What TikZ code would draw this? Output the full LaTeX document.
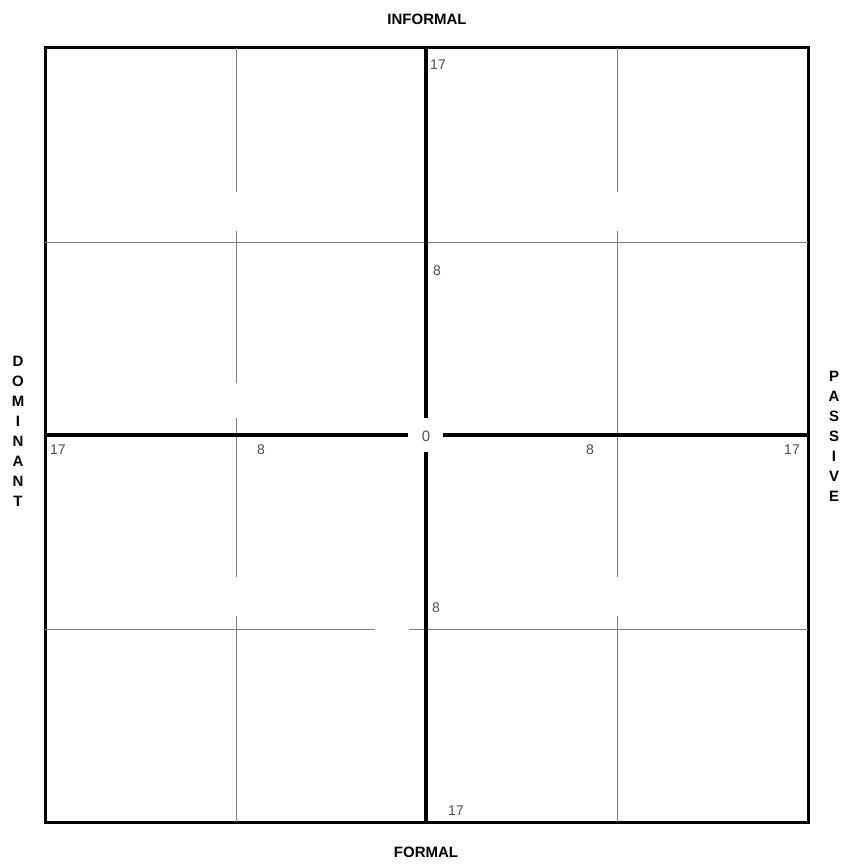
\documentclass[tikz,border=0pt]{standalone}
\usepackage{fontspec}
\setmainfont{Liberation Sans}
\usetikzlibrary{positioning}

\begin{document}
\begin{tikzpicture}
          [x=1pt,y=-1pt]
          \tikzstyle{frame}=[line width=3pt]
          \tikzstyle{axis}=[line width=4pt]
          \tikzstyle{grid}=[black!50,line width=1pt]
          \tikzstyle{num}=[font=\fontsize{14}{14}\selectfont,text=black!70,inner sep=1pt]
          \tikzstyle{pole}=[font=\bfseries\fontsize{15}{20}\selectfont,align=center,inner sep=0pt]

          \useasboundingbox (0,0) rectangle (848,867);

          % frame
          \coordinate (nw) at (45,48);
          \coordinate (se) at (808,822);
          \draw[frame] (nw) rectangle (se);

          % grey grid lines
          \coordinate (g1t) at (236,48);  \coordinate (g1a) at (236,192);
          \coordinate (g1b) at (236,231); \coordinate (g1c) at (236,383);
          \coordinate (g1d) at (236,418); \coordinate (g1e) at (236,577);
          \coordinate (g1f) at (236,616); \coordinate (g1z) at (236,822);
          \coordinate (g2t) at (617,48);  \coordinate (g2a) at (617,192);
          \coordinate (g2b) at (617,231); \coordinate (g2e) at (617,577);
          \coordinate (g2f) at (617,616); \coordinate (g2z) at (617,822);
          \coordinate (h1l) at (45,242);  \coordinate (h1r) at (808,242);
          \coordinate (h2l) at (45,629);  \coordinate (h2a) at (375,629);
          \coordinate (h2b) at (409,629); \coordinate (h2r) at (808,629);
          \draw[grid] (g1t) -- (g1a) (g1b) -- (g1c) (g1d) -- (g1e) (g1f) -- (g1z);
          \draw[grid] (g2t) -- (g2a) (g2b) -- (g2e) (g2f) -- (g2z);
          \draw[grid] (h1l) -- (h1r) (h2l) -- (h2a) (h2b) -- (h2r);

          % axes
          \node[num,font=\fontsize{15}{15}\selectfont] (zero) at (426,436) {0};
          \coordinate (top) at (426,48);   \coordinate (bot) at (426,822);
          \coordinate (lft) at (45,435);   \coordinate (rgt) at (808,435);
          \coordinate (ua) at (426,418);   \coordinate (da) at (426,452);
          \coordinate (la) at (408,435);   \coordinate (ra) at (443,435);
          \draw[axis] (top) -- (ua) (da) -- (bot);
          \draw[axis] (lft) -- (la) (ra) -- (rgt);

          % scale numbers
          \node[num] (n17t) at (438,65) {17};
          \node[num] (n8t) at (437,271) {8};
          \node[num] (n8b) at (436,608) {8};
          \node[num] (n17b) at (456,811) {17};
          \node[num] (n17l) at (58,450) {17};
          \node[num] (n8l) at (261,450) {8};
          \node[num] (n8r) at (590,450) {8};
          \node[num] (n17r) at (792,450) {17};

          % poles
          \node[pole] (informal) at (427,19) {INFORMAL};
          \node[pole] (formal) at (426,852) {FORMAL};
          \node[pole] (dominant) at (18,431) {D\\O\\M\\I\\N\\A\\N\\T};
          \node[pole] (passive) at (834,436) {P\\A\\S\\S\\I\\V\\E};
        \end{tikzpicture}
\end{document}
